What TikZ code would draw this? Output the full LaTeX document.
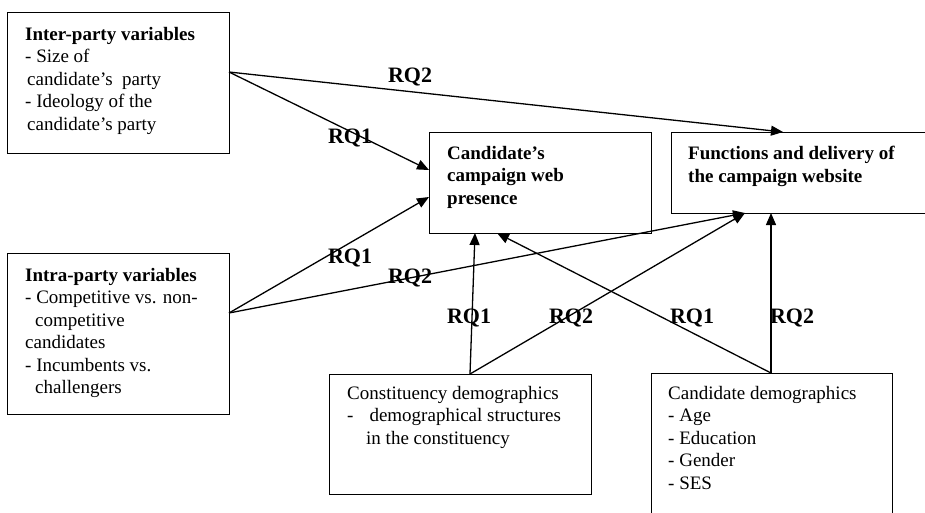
\documentclass[tikz,border=0pt]{standalone}
\usepackage{fontspec}
\setmainfont{Liberation Serif}
\usetikzlibrary{arrows.meta}
\begin{document}
\begin{tikzpicture}[x=1pt,y=-1pt,
  boxst/.style={draw,line width=1.2pt,inner sep=0pt,anchor=north west},
  txt/.style={anchor=north west,inner sep=0pt,align=left,font=\fontsize{19}{22.5}\selectfont},
  rq/.style={anchor=base,inner sep=0pt,font=\fontsize{22}{24}\selectfont\bfseries},
  arr/.style={line width=1.3pt,-{Triangle[length=12pt,width=10pt]}}]
\useasboundingbox (0,0) rectangle (925,512);
\clip (0,0) rectangle (925,512);
% boxes
\node[boxst,minimum width=222pt,minimum height=141pt] (b1) at (7,12) {};
\node[boxst,minimum width=222pt,minimum height=161pt] (b2) at (7,253) {};
\node[boxst,minimum width=222pt,minimum height=101pt] (b3) at (429,132) {};
\node[boxst,minimum width=260pt,minimum height=81pt] (b4) at (671,132) {};
\node[boxst,minimum width=262pt,minimum height=120pt] (b5) at (329,374) {};
\node[boxst,minimum width=241pt,minimum height=150pt] (b6) at (651,373) {};
% texts
\node[txt] (t1) at (25,27) {\textbf{Inter-party variables}\\- Size of\\\hspace*{2pt}candidate's\ \ party\\- Ideology of the\\\hspace*{2pt}candidate's party};
\node[txt] (t2) at (25,268) {\textbf{Intra-party variables}\\- Competitive vs. non-\\\hspace*{10pt}competitive\\candidates\\- Incumbents vs.\\\hspace*{10pt}challengers};
\node[txt] (t3) at (447,146) {\textbf{Candidate's}\\\textbf{campaign web}\\\textbf{presence}};
\node[txt] (t4) at (688,146) {\textbf{Functions and delivery of}\\\textbf{the campaign website}};
\node[txt] (t5) at (347,386) {Constituency demographics\\-\hspace*{16pt}demographical structures\\\hspace*{19pt}in the constituency};
\node[txt] (t6) at (668,386) {Candidate demographics\\- Age\\- Education\\- Gender\\- SES};
% connector end points
\coordinate (s1) at (229,72);
\coordinate (s2) at (229,313);
\coordinate (s5) at (470,374);
\coordinate (s6) at (771,373);
\coordinate (e4top) at (783,132);
\coordinate (e3a) at (429,170);
\coordinate (e3b) at (429,197);
\coordinate (e4a) at (745,213);
\coordinate (e3c) at (475,233);
\coordinate (e3d) at (497,233);
\coordinate (e4b) at (771,213);
% connectors
\draw[arr] (s1) -- (e4top);
\draw[arr] (s1) -- (e3a);
\draw[arr] (s2) -- (e3b);
\draw[arr] (s2) -- (e4a);
\draw[arr] (s5) -- (e3c);
\draw[arr] (s5) -- (e4a);
\draw[arr] (s6) -- (e3d);
\draw[arr] (s6) -- (e4b);
% labels
\node[rq] (l1) at (410,82) {RQ2};
\node[rq] (l2) at (350,143) {RQ1};
\node[rq] (l3) at (350,263) {RQ1};
\node[rq] (l4) at (410,283) {RQ2};
\node[rq] (l5) at (469,323) {RQ1};
\node[rq] (l6) at (571,323) {RQ2};
\node[rq] (l7) at (692,323) {RQ1};
\node[rq] (l8) at (792,323) {RQ2};
\end{tikzpicture}
\end{document}
